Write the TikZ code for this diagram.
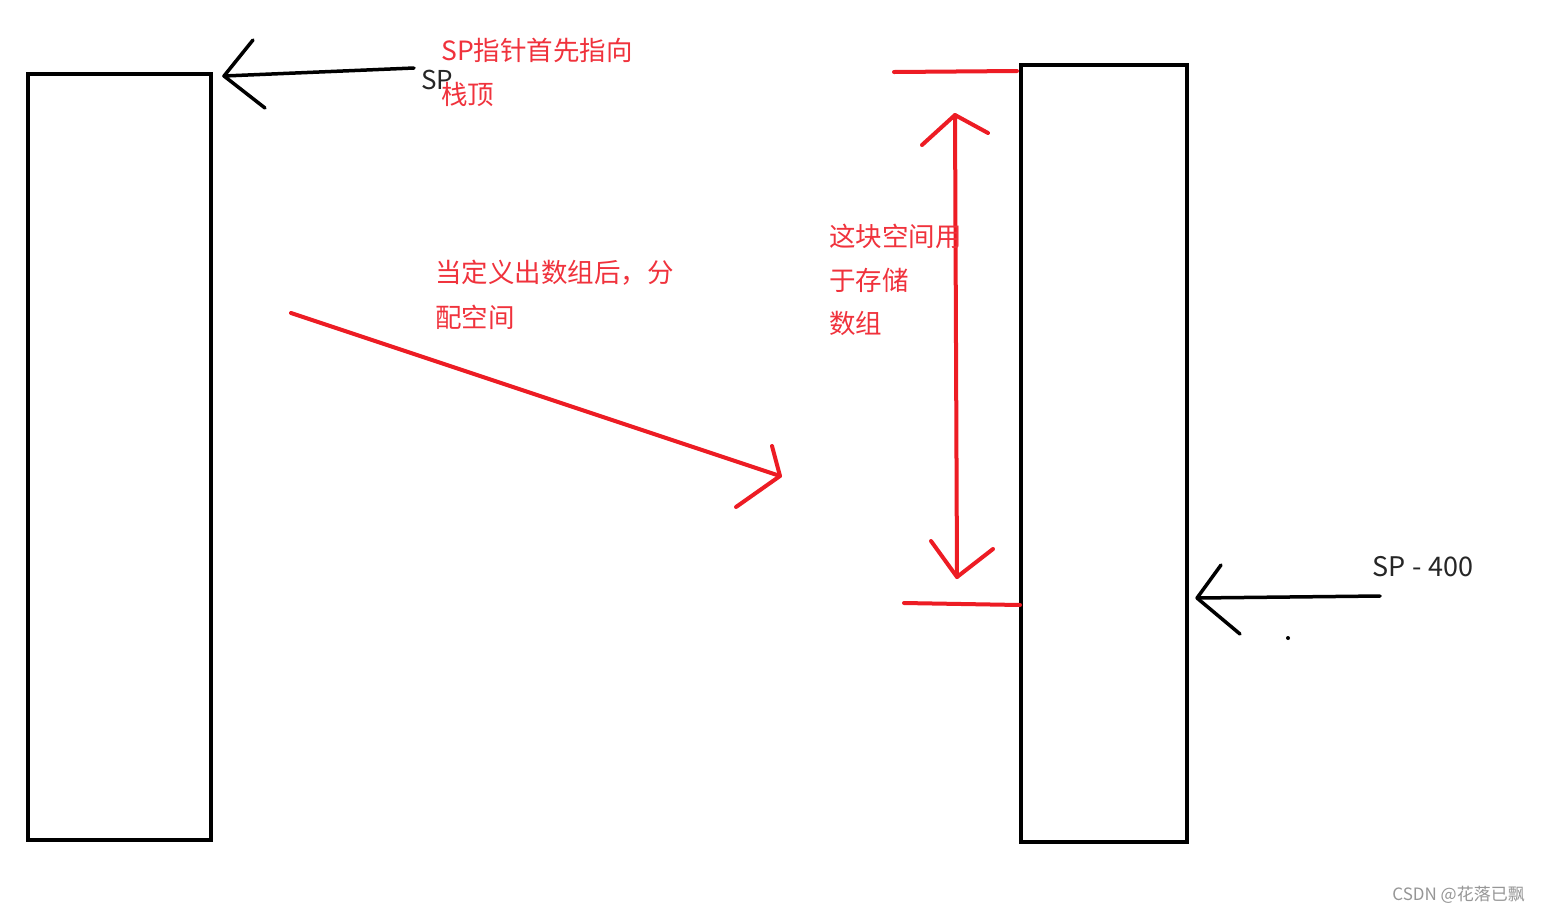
\documentclass[tikz,border=0pt]{standalone}
\usepackage{fontspec}
\setmainfont{Noto Sans CJK SC}
\definecolor{penred}{RGB}{237,28,36}
\definecolor{txtred}{RGB}{240,50,60}
\definecolor{wmgray}{RGB}{150,150,150}
\begin{document}
\begin{tikzpicture}[x=1pt,y=-1pt,
  blk/.style={draw=black,line width=4pt,outer sep=0pt,inner sep=0pt},
  redpen/.style={draw=penred,line width=4pt,line cap=round,line join=round},
  blkpen/.style={draw=black,line width=3.5pt,line cap=round,line join=round},
  rtxt/.style={text=txtred,font=\fontsize{26.5}{30}\selectfont,anchor=west,inner sep=0pt},
  ktxt/.style={text=black!85,font=\fontsize{27}{30}\selectfont,anchor=west,inner sep=0pt}]
\useasboundingbox[fill=white] (0,0) rectangle (1541,914);
% stacks
\node[blk,minimum width=183pt,minimum height=766pt,anchor=north west] (stackA) at (28,74) {};
\node[blk,minimum width=166pt,minimum height=777pt,anchor=north west] (stackB) at (1021,65) {};
% SP arrow (left)
\coordinate (spA) at (414,68);
\coordinate (spAtip) at (224,76);
\coordinate (spAh1) at (253,40);
\coordinate (spAh2) at (265,108);
\draw[blkpen] (spA) -- (spAtip);
\draw[blkpen] (spAh1) -- (spAtip) -- (spAh2);
\node[ktxt,font=\fontsize{26}{30}\selectfont] (lblSP) at (421,80) {SP};
\node[rtxt] (note1a) at (441,50) {SP指针首先指向};
\node[rtxt] (note1b) at (441,94) {栈顶};
% diagonal red arrow
\coordinate (dStart) at (291,313);
\coordinate (dTip) at (780,476);
\coordinate (dH1) at (772,446);
\coordinate (dH2) at (736,507);
\draw[redpen] (dStart) -- (dTip);
\draw[redpen] (dH1) -- (dTip) -- (dH2);
\node[rtxt] (note2a) at (435,273) {当定义出数组后，分};
\node[rtxt] (note2b) at (435,317) {配空间};
% top and bottom marks
\coordinate (tL) at (894,72);
\coordinate (tR) at (1017,71);
\coordinate (bL) at (904,603);
\coordinate (bR) at (1020,605);
\draw[redpen] (tL) -- (tR);
\draw[redpen] (bL) -- (bR);
% vertical double arrow
\coordinate (vTop) at (955,115);
\coordinate (vBot) at (957,577);
\draw[redpen] (vTop) -- (vBot);
\draw[redpen] (922,145) coordinate (vh1) -- (vTop) -- (988,133) coordinate (vh2);
\draw[redpen] (931,541) coordinate (vh3) -- (vBot) -- (993,549) coordinate (vh4);
\node[rtxt] (note3a) at (829,236) {这块空间用};
\node[rtxt] (note3b) at (829,280) {于存储};
\node[rtxt] (note3c) at (829,323) {数组};
% SP-400 arrow
\coordinate (spB) at (1380,596);
\coordinate (spBtip) at (1197,598);
\draw[blkpen] (spB) -- (spBtip);
\draw[blkpen] (1221,565) coordinate (spBh1) -- (spBtip) -- (1240,634) coordinate (spBh2);
\node[ktxt] (lblSP400) at (1372,567) {SP\hspace{0.25em}-\hspace{0.25em}400};
\fill[black] (1288,638) circle (2pt);
% watermark
\node[text=wmgray,font=\fontsize{17}{20}\selectfont,anchor=east,inner sep=0pt] (wm) at (1525,895) {CSDN @花落已飘};
\end{tikzpicture}
\end{document}
